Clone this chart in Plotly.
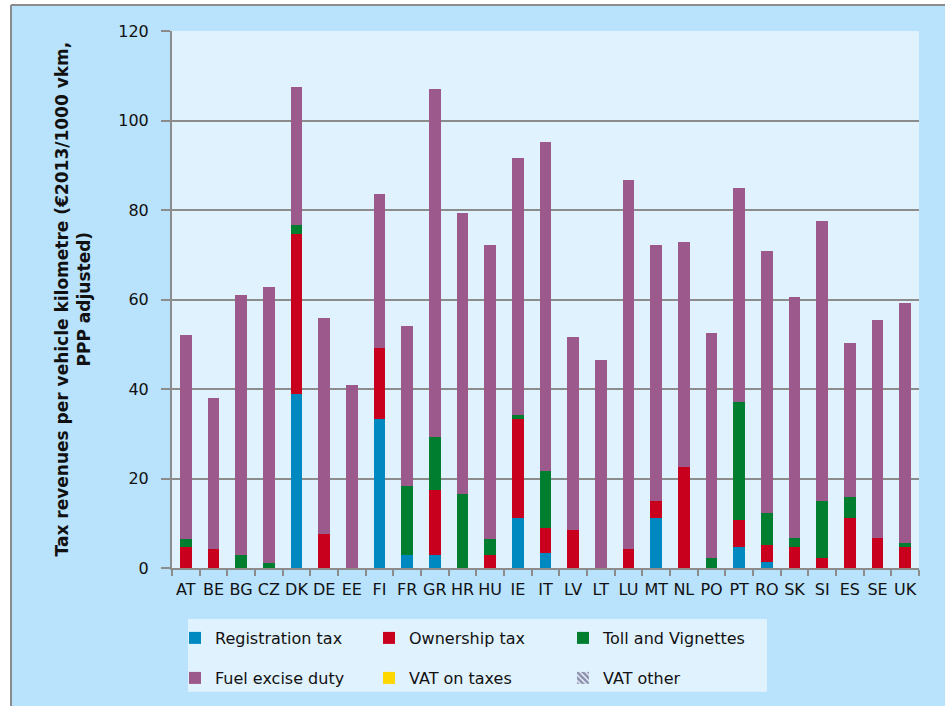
import plotly.graph_objects as go

countries = ["AT", "BE", "BG", "CZ", "DK", "DE", "EE", "FI", "FR", "GR", "HR", "HU", "IE", "IT",
             "LV", "LT", "LU", "MT", "NL", "PO", "PT", "RO", "SK", "SI", "ES", "SE", "UK"]

registration_tax = [0, 0, 0, 0, 38.8, 0, 0, 33.3, 3.0, 3.0, 0, 0, 11.2, 3.4,
                    0, 0, 0, 11.2, 0, 0, 4.7, 1.3, 0, 0, 0, 0, 0]
ownership_tax = [4.7, 4.3, 0, 0, 35.8, 7.7, 0, 15.8, 0, 14.5, 0, 3.0, 22.1, 5.6,
                 8.5, 0, 4.2, 3.7, 22.5, 0, 6.0, 3.8, 4.6, 2.2, 11.2, 6.8, 4.6]
toll_vignettes = [1.7, 0, 3.0, 1.2, 2.0, 0, 0, 0, 15.3, 11.8, 16.6, 3.5, 0.8, 12.6,
                  0, 0, 0, 0, 0, 2.2, 26.4, 7.2, 2.2, 12.7, 4.6, 0, 0.9]
fuel_excise = [45.6, 33.7, 57.9, 61.5, 30.9, 48.2, 41.0, 34.5, 35.8, 77.7, 62.7, 65.6, 57.6, 73.6,
               43.1, 46.4, 82.4, 57.2, 50.4, 50.3, 47.8, 58.5, 53.8, 62.7, 34.5, 48.7, 53.8]
vat_on_taxes = [0] * 27
vat_other = [0] * 27

y_ticks = [0, 20, 40, 60, 80, 100, 120]

FONT = "DejaVu Sans"
OUTER_BG = "#B9E2FC"
PLOT_BG = "#E0F2FE"
GRID = "#8C8C8C"

W, H = 945, 706
L, R, T, B = 172, 26, 31, 137
PW, PH = W - L - R, H - T - B


def px(x):
    return (x - L) / PW


def py(y):
    return (H - B - y) / PH


fig = go.Figure()
series = [
    ("Registration tax", registration_tax, "#0089C1", None, "legend"),
    ("Ownership tax", ownership_tax, "#C8001E", None, "legend"),
    ("Toll and Vignettes", toll_vignettes, "#007E30", None, "legend"),
    ("Fuel excise duty", fuel_excise, "#9C5A8C", None, "legend2"),
    ("VAT on taxes", vat_on_taxes, "#FFD700", None, "legend2"),
    ("VAT other", vat_other, "#FFFFFF", "\\", "legend2"),
]
for name, vals, col, pat, leg in series:
    marker = dict(color=col, line=dict(width=0))
    if pat:
        marker["pattern"] = dict(shape=pat, fgcolor="#14286A", bgcolor="#FFFFFF", size=5, solidity=0.7)
    fig.add_trace(go.Bar(x=countries, y=vals, name=name, marker=marker, legend=leg))

shapes = [
    # white frame outside the outer border
    dict(type="rect", xref="paper", yref="paper", x0=-1, x1=px(11), y0=-1, y1=2,
         fillcolor="white", line=dict(width=0), layer="below"),
    dict(type="rect", xref="paper", yref="paper", x0=-1, x1=2, y0=py(5), y1=2,
         fillcolor="white", line=dict(width=0), layer="below"),
    dict(type="line", xref="paper", yref="paper", x0=px(11), x1=px(11), y0=-1, y1=py(5),
         line=dict(color="#8C8C8C", width=2), layer="below"),
    dict(type="line", xref="paper", yref="paper", x0=px(11), x1=2, y0=py(5), y1=py(5),
         line=dict(color="#8C8C8C", width=2), layer="below"),
    # legend box
    dict(type="rect", xref="paper", yref="paper", x0=px(188), x1=px(767), y0=py(620), y1=py(693),
         fillcolor=PLOT_BG, line=dict(width=0), layer="below"),
]

fig.update_layout(
    width=W, height=H,
    margin=dict(l=L, r=R, t=T, b=B),
    paper_bgcolor=OUTER_BG,
    plot_bgcolor=PLOT_BG,
    barmode="stack",
    bargap=0.57,
    font=dict(family=FONT, size=16, color="#111111"),
    shapes=shapes,
    showlegend=True,
    legend=dict(orientation="h", x=px(175), xanchor="left", y=py(638), yanchor="middle",
                bgcolor="rgba(0,0,0,0)", entrywidth=149, entrywidthmode="pixels",
                font=dict(family=FONT, size=16, color="#111111"), traceorder="normal"),
    legend2=dict(orientation="h", x=px(175), xanchor="left", y=py(678), yanchor="middle",
                 bgcolor="rgba(0,0,0,0)", entrywidth=149, entrywidthmode="pixels",
                 font=dict(family=FONT, size=16, color="#111111"), traceorder="normal"),
    annotations=[
        dict(text="<b>Tax revenues per vehicle kilometre (€2013/1000 vkm,<br>PPP adjusted)</b>",
             xref="paper", yref="paper", x=px(72), y=py(300), xanchor="center", yanchor="middle",
             textangle=-90, showarrow=False, font=dict(family=FONT, size=17, color="#111111")),
    ],
)

fig.update_xaxes(
    type="category", showline=True, linecolor=GRID, linewidth=2,
    ticks="outside", tickson="boundaries", ticklen=6, tickcolor=GRID, tickwidth=2,
    ticklabelstandoff=6, showgrid=False, tickfont=dict(size=16), tickangle=0,
)
fig.update_yaxes(
    range=[0, 120], tickvals=y_ticks, showline=True, linecolor=GRID, linewidth=2,
    ticks="outside", ticklen=9, tickcolor=GRID, tickwidth=2, ticklabelstandoff=9,
    showgrid=True, gridcolor=GRID, gridwidth=2, zeroline=False, tickfont=dict(size=16),
)

fig.write_html("out.html", config={"displayModeBar": False},
               post_script="document.body.style.margin='0';")
